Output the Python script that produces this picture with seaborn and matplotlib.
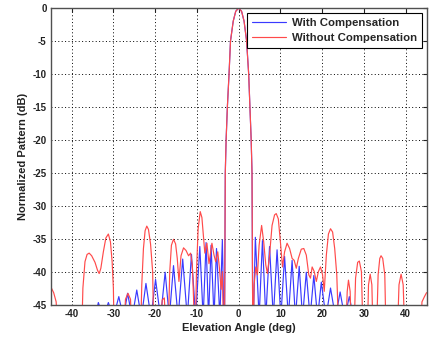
import matplotlib
matplotlib.use("Agg")
import matplotlib.pyplot as plt
import seaborn as sns
import pandas as pd

# ---- data (angle in deg, normalized pattern in dB) ----
red_angle = [
    -45.0, -44.3, -43.7, -43.3, -37.6, -37.3, -36.8, -36.3, -35.8, -35.2, -34.4, -33.8,
    -33.4, -33.0, -32.4, -31.8, -31.2, -30.7, -30.3, -30.0, -29.8, -27.6, -27.1, -26.5,
    -25.9, -25.5, -23.5, -23.2, -22.8, -22.4, -22.0, -21.6, -21.1, -20.6, -20.3, -18.8,
    -18.3, -17.8, -17.3, -16.9, -16.5, -16.1, -15.6, -15.1, -14.7, -14.3, -13.8, -13.2,
    -12.6, -12.0, -11.5, -11.1, -10.8, -10.6, -10.4, -10.1, -9.7, -9.2, -8.8, -8.4,
    -8.1, -7.6, -7.1, -6.4, -5.9, -5.5, -5.0, -4.6, -4.2, -3.9, -3.6,
    -3.35, -3.2, -3.0, -2.7, -2.3, -1.95, -1.3, -0.7, 0.0, 0.7, 1.3, 1.9, 2.4, 2.7,
    3.0, 3.2, 3.35,
    3.5, 3.7, 4.1, 4.5, 4.9, 5.5, 6.0, 6.5, 6.9, 7.4, 8.0, 8.6, 9.0, 9.5, 10.0, 10.5,
    11.0, 11.6, 12.2, 12.8, 13.3, 13.8, 14.3, 15.0, 15.6, 16.2, 16.8, 17.2, 17.6, 18.1,
    18.6, 19.1, 19.6, 20.1, 20.5, 21.0, 21.5, 22.0, 22.5, 23.0, 23.5, 24.0, 25.6, 26.0,
    26.3, 26.7, 27.0, 27.6, 28.0, 28.5, 28.9, 29.4, 29.8, 30.8, 31.1, 31.5, 31.9, 32.2,
    33.0, 33.4, 33.8, 34.1, 34.5, 35.0, 35.3, 38.0, 38.4, 38.9, 39.4, 39.8, 43.6, 43.9,
    44.5, 45.0,
]
red_db = [
    -42.3, -43.2, -44.6, -50.0, -50.0, -42.5, -38.5, -37.4, -37.2, -37.6, -38.6, -39.8,
    -40.3, -39.5, -37.0, -34.9, -34.3, -35.5, -38.5, -42.5, -50.0, -50.0, -44.2, -43.3,
    -44.2, -50.0, -50.0, -42.0, -36.5, -33.8, -33.1, -33.6, -35.8, -40.0, -50.0, -50.0,
    -44.3, -44.0, -50.0, -50.0, -40.0, -36.0, -35.1, -35.8, -38.0, -41.5, -37.6, -36.4,
    -36.8, -37.6, -37.2, -39.0, -44.0, -50.0, -50.0, -40.0, -33.5, -30.9, -31.8, -35.0,
    -37.2, -35.7, -38.8, -35.7, -37.5, -38.5, -37.0, -39.5, -42.7, -40.0, -50.0,
    -45.0, -25.0, -20.0, -15.0, -10.0, -5.0, -2.0, -0.5, 0.0, -0.5, -2.0, -5.0, -10.0, -15.0,
    -20.0, -25.0, -45.0,
    -50.0, -42.0, -39.3, -40.5, -36.0, -33.0, -35.5, -39.0, -40.3, -37.5, -33.0, -31.4, -31.2, -32.0, -35.5, -39.3,
    -37.0, -35.7, -36.5, -38.0, -38.3, -39.5, -38.0, -36.6, -36.5, -37.5, -40.5, -41.0, -39.3, -40.0,
    -41.5, -40.0, -39.3, -40.5, -43.0, -37.5, -34.3, -33.5, -34.0, -36.5, -40.5, -50.0, -50.0, -43.0,
    -41.3, -43.0, -50.0, -50.0, -41.0, -38.6, -38.4, -40.0, -50.0, -50.0, -42.0, -40.4, -42.0, -50.0,
    -50.0, -40.5, -38.0, -37.6, -38.0, -40.5, -50.0, -50.0, -42.0, -40.4, -42.0, -50.0, -50.0, -44.6,
    -43.8, -43.2,
]

blue_angle = [
    -45.0, -34.4, -33.6, -32.4, -31.2, -30.0, -28.7, -27.6, -26.6, -25.5, -24.4, -23.3,
    -22.2, -21.0, -19.9, -18.7, -17.6, -16.6, -15.6, -14.5, -13.4, -12.3, -11.3, -10.3,
    -9.3, -8.5, -7.8, -7.2, -6.6, -5.9, -5.3, -4.5, -3.9, -3.55,
    -3.35, -3.2, -3.0, -2.7, -2.3, -1.95, -1.3, -0.7, 0.0, 0.7, 1.3, 1.9, 2.4, 2.7,
    3.0, 3.2, 3.35,
    3.55, 4.0, 4.9, 5.7, 6.5, 7.4, 8.3, 9.2, 10.1, 11.0, 11.9, 12.8, 13.6, 14.5, 15.3,
    16.2, 17.1, 18.0, 18.9, 19.8, 20.9, 22.0, 23.2, 24.3, 25.4, 26.5, 27.5, 45.0,
]
blue_db = [
    -47.0, -47.0, -44.7, -47.0, -44.7, -47.0, -43.8, -47.0, -43.3, -47.0, -42.8, -47.0,
    -41.8, -47.0, -41.2, -47.0, -40.1, -47.0, -39.1, -47.0, -38.1, -47.0, -37.4, -47.0,
    -36.2, -47.0, -35.6, -47.0, -36.0, -47.0, -36.5, -47.0, -35.2, -47.0,
    -45.0, -25.0, -20.0, -15.0, -10.0, -5.0, -2.0, -0.5, 0.0, -0.5, -2.0, -5.0, -10.0, -15.0,
    -20.0, -25.0, -45.0,
    -47.0, -34.8, -47.0, -35.3, -47.0, -36.2, -47.0, -36.7, -47.0, -37.7, -47.0, -38.3, -47.0, -39.2, -47.0,
    -40.1, -47.0, -40.6, -47.0, -41.6, -47.0, -42.5, -47.0, -43.1, -47.0, -43.8, -47.0, -47.0,
]

x_ticks = [-40, -30, -20, -10, 0, 10, 20, 30, 40]
y_ticks = [0, -5, -10, -15, -20, -25, -30, -35, -40, -45]

series_names = ["With Compensation", "Without Compensation"]
series_colors = ["#3a3aff", "#ff4a4a"]

# ---- plotting ----
sns.set_style("white")
plt.rcParams["font.family"] = ["Liberation Sans", "DejaVu Sans"]
plt.rcParams["axes.unicode_minus"] = False

fig = plt.figure(figsize=(4.3, 3.41), dpi=100)
ax = fig.add_axes([0.118, 0.107, 0.874, 0.8695])

df_blue = pd.DataFrame({"angle": blue_angle, "dB": blue_db})
df_red = pd.DataFrame({"angle": red_angle, "dB": red_db})

sns.lineplot(data=df_blue, x="angle", y="dB", estimator=None, sort=False,
             color=series_colors[0], lw=0.85, ax=ax, label=series_names[0])
sns.lineplot(data=df_red, x="angle", y="dB", estimator=None, sort=False,
             color=series_colors[1], lw=0.85, ax=ax, label=series_names[1])

ax.set_xlim(-45, 45)
ax.set_ylim(-45, 0)
ax.set_xticks(x_ticks)
ax.set_yticks(y_ticks)
ax.set_xticklabels([str(v) for v in x_ticks])
ax.set_yticklabels([str(v) for v in y_ticks])

ax.grid(True, color="black", linestyle=(0, (1, 2.5)), linewidth=0.7)
ax.tick_params(direction="in", length=3, width=0.8, top=True, right=True,
               labelsize=7, colors="#222222", pad=3)
for lab in ax.get_xticklabels() + ax.get_yticklabels():
    lab.set_fontweight("bold")
for sp in ax.spines.values():
    sp.set_color("#505050")
    sp.set_linewidth(1.0)
    sp.set_visible(True)

ax.set_xlabel("Elevation Angle (deg)", fontsize=8, fontweight="bold", color="#222222", labelpad=3)
ax.set_ylabel("Normalized Pattern (dB)", fontsize=8, fontweight="bold", color="#222222", labelpad=3)

leg = ax.legend(loc="upper right", frameon=True, fancybox=False, framealpha=1,
                edgecolor="black", prop={"weight": "bold", "size": 8.2},
                handlelength=3.0, borderaxespad=0.4, borderpad=0.45,
                labelspacing=0.45, handletextpad=0.5)
leg.get_frame().set_linewidth(0.8)

fig.savefig("out.png", dpi=100)
